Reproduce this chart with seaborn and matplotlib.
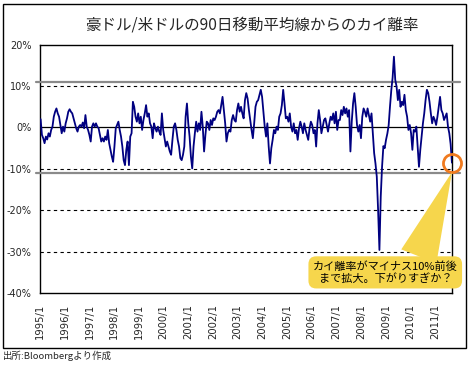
import numpy as np
import pandas as pd
import matplotlib
matplotlib.use("Agg")
import matplotlib.pyplot as plt
from matplotlib.patches import Rectangle
import seaborn as sns

# ---- data (~20-day sampling) ----
seg_1995_1997 = [2.0, -1.8, -2.6, -3.8, -2.2, -2.9, -1.4, -2.2, -0.6, 0.2,
                 2.6, 3.8, 4.6, 3.4, 2.6, 0.6, -1.4, 0.2, -1.0, 1.0,
                 2.2, 3.8, 4.4, 3.8, 3.4, 2.2, 1.0, -0.2, -1.0, 0.2,
                 0.6, 0.2, 1.2, -0.2, 3.0, 0.2, -0.6, -1.8, -3.4, 0.2,
                 1.0, 0.2, 1.0, 0.2, -0.2]
seg_1997_2000 = [-1.8, -3.4, -2.6, -3.4, -2.2, -3.0, -0.6, -3.8, -5.4, -7.0,
                 -8.3, -4.6, -0.2, 0.6, 1.4, -0.6, -2.2, -4.6, -7.9, -9.1,
                 -5.4, -3.4, -9.1, -2.2, -1.4, 6.2, 5.0, 2.6, 1.4, 3.4,
                 1.0, 2.6, -0.6, 1.8, 3.4, 5.4, 2.6, 3.4, 1.0, 0.2,
                 -2.6, 1.0, -0.2, -1.0, 0.2]
seg_2000_2002 = [-1.0, -1.8, 3.4, -0.6, -2.6, -4.6, -3.4, -4.6, -5.8, -6.6,
                 -3.0, 0.2, 1.0, -0.6, -3.0, -4.6, -7.4, -7.9, -6.6, -4.6,
                 2.6, 5.8, 1.0, -2.2, -7.0, -9.9, -4.6, -1.4, 1.4, -1.0,
                 1.0, -0.6, 3.8, 0.2, -5.8, -1.8, 1.4, 1.0, -0.6, 1.8,
                 0.6, 2.2, 1.8, 2.6, 3.8, 4.2]
seg_2002_2005 = [3.4, 5.4, 7.4, 4.2, 1.0, -3.4, -1.4, -0.6, -1.0, 1.8,
                 3.0, 1.8, 1.4, 4.2, 5.8, 3.8, 5.0, 3.4, 2.2, 6.6,
                 8.3, 7.0, 4.2, 1.8, -0.6, -2.6, 1.0, 5.0, 6.2, 6.6,
                 7.9, 9.1, 7.4, 3.8, 0.2, -2.2, 1.0, -4.6, -8.7, -5.0,
                 -3.0, -0.6, -1.4, 0.2, -0.6, 2.6]
seg_2005_2007 = [3.4, 5.4, 9.1, 5.8, 2.2, 2.6, 1.4, 3.4, 0.2, -1.0,
                 1.0, -1.4, -0.6, -3.0, -0.2, 1.4, 0.2, -1.4, 1.0, -0.6,
                 -1.8, -3.0, -0.2, 1.4, 0.6, -1.4, -0.6, -4.6, 1.0, 4.2,
                 1.8, -1.4, 0.2, 1.8, 2.2, 0.6, -1.0, 1.0, 2.6, 1.8,
                 3.4, 1.0, 3.8, -0.6, 1.8]
seg_2007_2009 = [1.8, 4.2, 3.0, 5.0, 3.4, 4.6, 2.6, 4.2, -5.8, 1.4,
                 5.8, 8.3, 5.0, 0.6, -1.0, 0.6, -2.6, 2.6, 4.6, 3.8,
                 2.6, 4.6, 3.0, 1.4, 3.4, -1.4, -6.2, -8.7, -11.9, -20.0,
                 -29.6, -16.7, -9.5, -4.5, -5.0, -3.0, -1.5, 0.5, 5.0, 9.0,
                 12.0, 17.1, 11.5, 9.9, 6.6, 9.1]
seg_2009_2011 = [5.0, 6.2, 5.4, 7.9, 4.2, 2.6, -0.6, 0.6, -1.4, -5.4,
                 -0.6, -1.0, 0.2, -4.6, -9.5, -5.4, -2.2, 1.0, 3.4, 6.6,
                 9.1, 8.3, 6.2, 3.4, 1.0, 2.6, 1.8, 0.6, 2.6, 5.0,
                 7.4, 4.2, 3.4, 1.8, 2.6, 3.4, 0.2, -1.4, -4.0, -8.5]

deviation = (seg_1995_1997 + seg_1997_2000 + seg_2000_2002 + seg_2002_2005
             + seg_2005_2007 + seg_2007_2009 + seg_2009_2011)
start_date, end_date = "1995-01-10", "2011-09-05"

upper_band, lower_band = 11.0, -11.0
grid_levels = [10, -10, -20, -30]
y_ticks = [20, 10, 0, -10, -20, -30, -40]
y_labels = ["20%", "10%", "0%", "-10%", "-20%", "-30%", "-40%"]
years = list(range(1995, 2012))
x_labels = [f"{y}/1" for y in years]

title = "豪ドル/米ドルの90日移動平均線からのカイ離率"
callout = "カイ離率がマイナス10%前後\nまで拡大。下がりすぎか？"
source = "出所:Bloombergより作成"

dates = pd.date_range(start_date, end_date, periods=len(deviation))
df = pd.DataFrame({"date": dates, "dev": deviation})

# ---- style ----
sns.set_style("white")
plt.rcParams["font.family"] = ["Noto Sans CJK JP", "DejaVu Sans"]

W, H = 470, 366
fig = plt.figure(figsize=(W / 100, H / 100), dpi=100)
ax = fig.add_axes([40 / W, 1 - 293 / H, 412 / W, 248.3 / H])

sns.lineplot(data=df, x="date", y="dev", ax=ax, color="#000080",
             linewidth=1.3, zorder=4)

ax.set_xlim(pd.Timestamp("1995-01-01"), pd.Timestamp("2011-09-06"))
ax.set_ylim(-40, 20)

for g in grid_levels:
    ax.axhline(g, color="black", linestyle=(0, (3, 3)), linewidth=0.8, zorder=2)
ax.axhline(0, color="black", linewidth=0.9, zorder=3)
for b in (upper_band, lower_band):
    ax.axhline(b, xmin=-0.01, xmax=1.02, color="#8a8a8a", linewidth=1.6,
               zorder=3, clip_on=False)

ax.set_yticks(y_ticks)
ax.set_yticklabels(y_labels, fontsize=7, family=["DejaVu Sans"])
ax.set_xticks([pd.Timestamp(f"{y}-01-01") for y in years])
ax.set_xticklabels(x_labels, rotation=90, fontsize=7.2, va="top",
                   family=["DejaVu Sans"])
ax.tick_params(axis="both", length=0)
ax.tick_params(axis="x", pad=8)
ax.tick_params(axis="y", pad=6)
ax.set_xlabel("")
ax.set_ylabel("")
for s in ax.spines.values():
    s.set_color("black")
    s.set_linewidth(1.0)

# highlight circle at the last point
last_x, last_y = df["date"].iloc[-1], df["dev"].iloc[-1]
ax.plot([last_x], [last_y], marker="o", markersize=13, mfc="none",
        mec="#F07A1E", mew=2, clip_on=False, zorder=6)

ax.annotate(callout, xy=(last_x, last_y - 2.3), xycoords="data",
            xytext=(0.838, 0.083), textcoords="axes fraction",
            ha="center", va="center", fontsize=8.0, color="black",
            multialignment="center", annotation_clip=False, zorder=7,
            bbox=dict(boxstyle="round,pad=0.4,rounding_size=0.7",
                      fc="#F6D64C", ec="none"),
            arrowprops=dict(arrowstyle="wedge,tail_width=3.4,shrink_factor=0.5",
                            fc="#F6D64C", ec="none", relpos=(0.72, 1.0),
                            shrinkA=0, shrinkB=0))

fig.text(252 / W, 1 - 25 / H, title, ha="center", va="center", fontsize=11.2)
fig.text(3 / W, 1 - 356 / H, source, ha="left", va="center", fontsize=6.8)
fig.patches.append(Rectangle((3 / W, 1 - 348 / H), 462.5 / W, 344 / H,
                             transform=fig.transFigure, fill=False,
                             ec="black", lw=1.0))

fig.savefig("out.png", dpi=100)
